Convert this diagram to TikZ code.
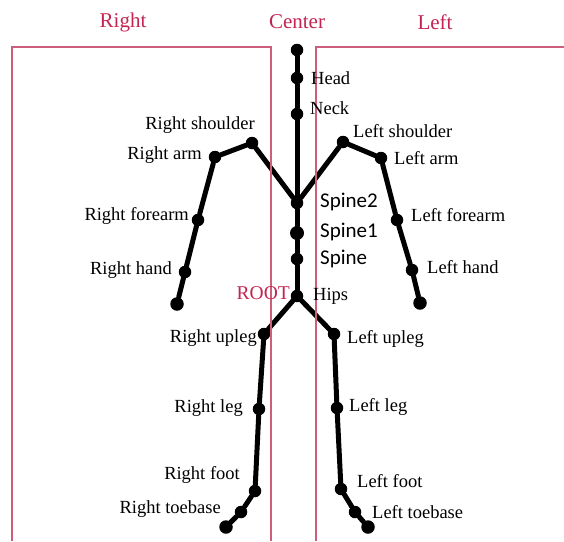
\documentclass[tikz,border=0pt]{standalone}
\usepackage{fontspec}
\setmainfont{Liberation Serif}
\newfontfamily\spinefont{Carlito}
\definecolor{sidered}{RGB}{196,36,82}
\definecolor{boxpink}{RGB}{205,95,125}

\begin{document}
\begin{tikzpicture}[x=1pt,y=-1pt,
  joint/.style={circle,fill=black,inner sep=0pt,minimum size=12.5pt},
  bone/.style={line width=5pt,line cap=round},
  side/.style={draw=boxpink,line width=1.2pt},
  part/.style={font=\fontsize{18.5}{20}\selectfont,inner sep=1pt},
  spinepart/.style={font=\spinefont\fontsize{21}{23}\selectfont,inner sep=1pt},
  header/.style={font=\fontsize{21}{23}\selectfont,text=sidered}]
\useasboundingbox (0,0) rectangle (564,541);

% Joints of the centre line
\node[joint] (top)      at (297,50)  {};
\node[joint] (head)     at (297,78)  {};
\node[joint] (neck)     at (297,114) {};
\node[joint] (spinetwo) at (297,203) {};
\node[joint,minimum size=14pt] (spineone) at (297,233) {};
\node[joint] (spine)    at (297,259) {};
\node[joint] (hips)     at (297,296) {};

% Arms
\node[joint] (rshoulder) at (252,143) {};
\node[joint] (rarm)      at (215,157) {};
\node[joint] (rforearm)  at (198,220) {};
\node[joint] (rhand)     at (185,272) {};
\node[joint,minimum size=13.5pt] (rfingers) at (177,304) {};
\node[joint] (lshoulder) at (343,142) {};
\node[joint] (larm)      at (381,158) {};
\node[joint] (lforearm)  at (397,220) {};
\node[joint] (lhand)     at (412,270) {};
\node[joint,minimum size=13.5pt] (lfingers) at (420,303) {};

% Legs
\node[joint] (rupleg)   at (264,334) {};
\node[joint] (rleg)     at (259,409) {};
\node[joint] (rfoot)    at (255,491) {};
\node[joint] (rtoebase) at (241,512) {};
\node[joint,minimum size=13.5pt] (rtoe) at (226,527) {};
\node[joint] (lupleg)   at (334,334) {};
\node[joint] (lleg)     at (337,408) {};
\node[joint] (lfoot)    at (341,489) {};
\node[joint] (ltoebase) at (355,512) {};
\node[joint,minimum size=13.5pt] (ltoe) at (368,527) {};

% Bones
\draw[bone] (top) -- (head) -- (neck) -- (spinetwo) -- (spineone) -- (spine) -- (hips);
\draw[bone] (spinetwo) -- (rshoulder) -- (rarm) -- (rforearm) -- (rhand) -- (rfingers);
\draw[bone] (spinetwo) -- (lshoulder) -- (larm) -- (lforearm) -- (lhand) -- (lfingers);
\draw[bone] (hips) -- (rupleg) -- (rleg) -- (rfoot) -- (rtoebase) -- (rtoe);
\draw[bone] (hips) -- (lupleg) -- (lleg) -- (lfoot) -- (ltoebase) -- (ltoe);

% Side frames
\draw[side] (12,541) -- (12,47) -- (271,47) -- (271,541);
\draw[side] (564,47) -- (316,47) -- (316,541);

% Headers
\node[header] (right-title)  at (123,22) {Right};
\node[header] (center-title) at (297,22) {Center};
\node[header] (left-title)   at (435,22) {Left};

% Labels
\node[part,anchor=west] (head-text) at (310,78)  {Head};
\node[part,anchor=west] (neck-text) at (309,108) {Neck};
\node[spinepart,anchor=west] (spinetwo-text) at (319,202) {Spine2};
\node[spinepart,anchor=west] (spineone-text) at (319,232) {Spine1};
\node[spinepart,anchor=west] (spine-text)    at (319,259) {Spine};
\node[part,anchor=east,text=sidered,font=\fontsize{19.5}{21}\selectfont] (root-text) at (291,293) {ROOT};
\node[part,anchor=west] (hips-text) at (312,296) {Hips};

\node[part] (rshoulder-text) at (200,125) {Right shoulder};
\node[part,anchor=east] (rarm-text)     at (203,155) {Right arm};
\node[part,anchor=east] (rforearm-text) at (190,216) {Right forearm};
\node[part,anchor=east] (rhand-text)    at (173,270) {Right hand};
\node[part,anchor=west] (lshoulder-text) at (352,131) {Left shoulder};
\node[part,anchor=west] (larm-text)     at (393,158) {Left arm};
\node[part,anchor=west] (lforearm-text) at (410,215) {Left forearm};
\node[part,anchor=west] (lhand-text)    at (426,267) {Left hand};

\node[part,anchor=east] (rupleg-text)   at (258,338) {Right upleg};
\node[part,anchor=east] (rleg-text)     at (244,408) {Right leg};
\node[part,anchor=east] (rfoot-text)    at (241,475) {Right foot};
\node[part,anchor=east] (rtoebase-text) at (222,509) {Right toebase};
\node[part,anchor=west] (lupleg-text)   at (346,339) {Left upleg};
\node[part,anchor=west] (lleg-text)     at (348,407) {Left leg};
\node[part,anchor=west] (lfoot-text)    at (356,481) {Left foot};
\node[part,anchor=west] (ltoebase-text) at (371,512) {Left toebase};
\end{tikzpicture}
\end{document}
